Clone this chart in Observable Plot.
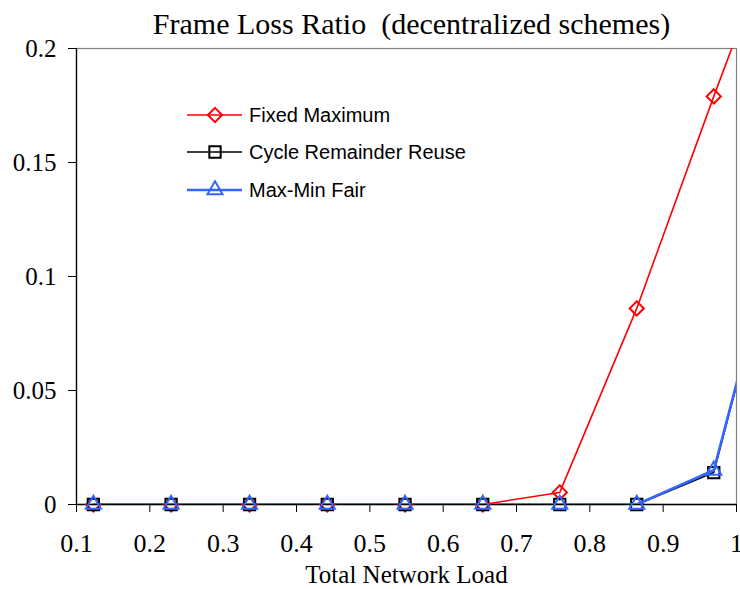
<!DOCTYPE html>
<html>
<head>
<meta charset="utf-8">
<script src="https://cdn.jsdelivr.net/npm/d3@7"></script>
<script src="https://cdn.jsdelivr.net/npm/@observablehq/plot@0.6"></script>
<style>
  html, body { margin: 0; padding: 0; background: white; }
  #wrap { position: relative; width: 740px; height: 589px; }
  #wrap > svg, #wrap > svg text { font-family: "Liberation Serif", "Times New Roman", serif !important; font-variant: normal !important; }
  #legend { position: absolute; left: 187px; top: 0; font-family: "Liberation Sans", Arial, sans-serif; font-size: 20px; color: #000; }
  .row { position: absolute; left: 0; height: 24px; display: flex; align-items: center; white-space: nowrap; }
  .row svg { display: block; margin-right: 6px; }
</style>
</head>
<body>
<div id="wrap"></div>
<script>
const titleText = "Frame Loss Ratio  (decentralized schemes)";
const xLabelText = "Total Network Load";

const loads      = [0.123, 0.229, 0.336, 0.442, 0.548, 0.654, 0.759, 0.864, 0.969, 1.075];
const fixedMax   = [0, 0, 0, 0, 0, 0, 0.0053, 0.086, 0.179, 0.27];
const cycleReuse = [0, 0, 0, 0, 0, 0, 0, 0, 0.014, 0.145];
const maxMinFair = [0, 0, 0, 0, 0, 0, 0, 0, 0.015, 0.145];

const seriesNames  = ["Fixed Maximum", "Cycle Remainder Reuse", "Max-Min Fair"];
const seriesColors = ["#ff0000", "#000000", "#3366ff"];

const xTicks = [0.1, 0.2, 0.3, 0.4, 0.5, 0.6, 0.7, 0.8, 0.9, 1.0];
const yTicks = [0, 0.05, 0.1, 0.15, 0.2];

const rows = loads.map((x, i) => ({x, fixed: fixedMax[i], cycle: cycleReuse[i], fair: maxMinFair[i]}));
const xMax = xTicks[xTicks.length - 1];
const visibleRows = rows.filter(d => d.x <= xMax);

const serif = "Liberation Serif";
const series = [
  {key: "fixed", symbol: "diamond2", r: 6.4, lw: 1.6, d3sym: d3.symbolDiamond2},
  {key: "cycle", symbol: "square2",  r: 7.2, lw: 1.6, d3sym: d3.symbolSquare2},
  {key: "fair",  symbol: "triangle2", r: 7.2, lw: 2.6, d3sym: d3.symbolTriangle2}
];

const marks = [
  Plot.frame({stroke: "#808080", strokeWidth: 1.2}),
  Plot.ruleX([0.1], {stroke: "#000", strokeWidth: 1.3}),
  Plot.ruleY([0], {stroke: "#000", strokeWidth: 1.3}),
  Plot.axisX({ticks: xTicks, tickSize: 8, tickPadding: 21, fontSize: 26, fontFamily: serif, label: null,
              tickFormat: d => String(+d.toFixed(2)), stroke: "#000"}),
  Plot.axisY({ticks: yTicks, tickSize: 8, tickPadding: 12, fontSize: 25, fontFamily: serif, label: null,
              tickFormat: d => String(+d.toFixed(2)), stroke: "#000"})
];
series.forEach((s, i) => {
  marks.push(Plot.line(rows, {x: "x", y: s.key, stroke: seriesColors[i], strokeWidth: s.lw, clip: true}));
  marks.push(Plot.dot(visibleRows, {x: "x", y: s.key, stroke: seriesColors[i], symbol: s.symbol, r: s.r,
                             strokeWidth: 2, fill: "none"}));
});
marks.push(Plot.text([titleText], {frameAnchor: "top", dy: -24.6, dx: 5, fontSize: 30, fontFamily: serif, lineAnchor: "middle"}));
marks.push(Plot.text([xLabelText], {frameAnchor: "bottom", dy: 70, fontSize: 25, fontFamily: serif, lineAnchor: "middle"}));

const chart = Plot.plot({
  width: 740, height: 589,
  marginTop: 48, marginBottom: 85, marginLeft: 76, marginRight: 4,
  style: {fontFamily: serif, background: "white", color: "#000", overflow: "visible"},
  x: {domain: [0.1, xMax]},
  y: {domain: [0, 0.2]},
  marks
});
const wrap = document.getElementById("wrap");
wrap.appendChild(chart);

// legend overlay
const legend = document.createElement("div");
legend.id = "legend";
const rowCenters = [115, 152, 190];
series.forEach((s, i) => {
  const row = document.createElement("div");
  row.className = "row";
  row.style.top = (rowCenters[i] - 12) + "px";
  const path = d3.symbol().type(s.d3sym).size(Math.PI * s.r * s.r)();
  row.innerHTML = `<svg width="56" height="24"><line x1="0" x2="55" y1="12" y2="12" stroke="${seriesColors[i]}" stroke-width="${s.lw}"/>` +
    `<path d="${path}" transform="translate(28,12)" fill="none" stroke="${seriesColors[i]}" stroke-width="2"/></svg>` +
    `<span>${seriesNames[i]}</span>`;
  legend.appendChild(row);
});
wrap.appendChild(legend);
</script>
</body>
</html>
